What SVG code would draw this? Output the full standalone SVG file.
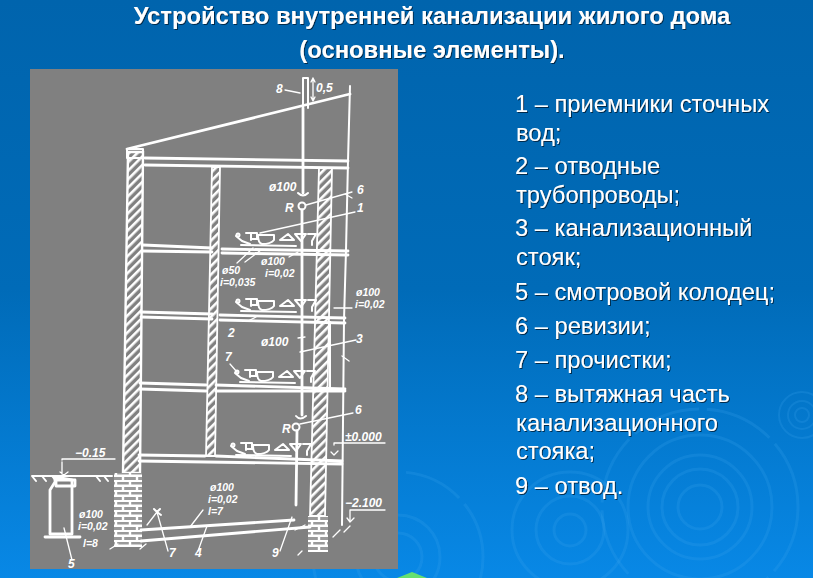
<svg xmlns="http://www.w3.org/2000/svg" xmlns:xlink="http://www.w3.org/1999/xlink" width="813" height="578" viewBox="0 0 813 578">
<style>
.t{font-family:"Liberation Sans",Arial,sans-serif;fill:#fff;filter:url(#sh)}
.h{font-size:23.8px;font-weight:700;text-anchor:middle}
.b{font-size:23.7px}
.r{fill:none;stroke:#3aa2ee;stroke-opacity:.22}
.w{fill:none;stroke:#fff;stroke-width:2;stroke-linecap:round;stroke-linejoin:round}
.n{stroke-width:1.3}
.k{stroke-width:2.8}
.l{font-family:"Liberation Sans",Arial,sans-serif;font-style:italic;font-weight:700;font-size:12px;fill:#fff}
.s{font-size:10.5px}
</style>
<defs>
<linearGradient id="bg" x1="0" y1="0" x2="0" y2="1"><stop offset="0" stop-color="#0064ad"/><stop offset=".5" stop-color="#006bb8"/><stop offset="1" stop-color="#0888e6"/></linearGradient>
<filter id="sh" x="-5%" y="-20%" width="110%" height="140%"><feDropShadow dx="1" dy="1" stdDeviation="0.3" flood-color="#05213f" flood-opacity=".9"/></filter>
<pattern id="hatch" width="6" height="6" patternUnits="userSpaceOnUse" patternTransform="rotate(-45)"><rect width="6" height="6" fill="#808080"/><rect width="6" height="2.6" fill="#fff"/></pattern>
<pattern id="brick" width="14" height="10" patternUnits="userSpaceOnUse"><rect width="14" height="10" fill="#9a9a9a"/><path d="M0 .8H14M0 5.8H14M4 1V5M11 6V10" stroke="#fff" stroke-width="2.4"/></pattern>
<g id="fx" class="w">
<path d="M0 0l6 5 8 3"/><circle cx="2" cy="-1" r="1.5"/>
<path d="M10-3H21V3H15M15-3V4M22-1H38V4Q35 8 26 8 22 7 22-1Z"/>
<path d="M44 4L52-2 58 4ZM59-2H70L65 5ZM72-2H80L76 5V9" />
<path d="M5 9L60 10"/>
</g>
</defs>
<rect width="813" height="578" fill="url(#bg)"/>
<g id="ripples">
<circle class="r" cx="700" cy="507" r="22" stroke-width="3"/><circle class="r" cx="700" cy="507" r="38" stroke-width="3"/><circle class="r" cx="700" cy="507" r="52" stroke-width="3"/><circle class="r" cx="700" cy="507" r="72" stroke-width="3"/><circle class="r" cx="700" cy="507" r="98" stroke-width="3" stroke-dasharray="70 8"/>
<circle class="r" cx="802" cy="415" r="7" stroke-width="2"/><circle class="r" cx="802" cy="415" r="14" stroke-width="2"/><circle class="r" cx="802" cy="415" r="23" stroke-width="2"/>
<circle class="r" cx="570" cy="530" r="16" stroke-width="3"/><circle class="r" cx="570" cy="530" r="34" stroke-width="3"/><circle class="r" cx="570" cy="530" r="58" stroke-width="3"/>
<circle class="r" cx="398" cy="557" r="24" stroke-width="3"/><circle class="r" cx="398" cy="557" r="42" stroke-width="3"/><circle class="r" cx="398" cy="557" r="85" stroke-width="3" stroke-dasharray="60 8"/>
</g>
<path d="M412 572l15 6h-30Z" fill="#66e070"/>
<text class="t h" x="432" y="24">Устройство внутренней канализации жилого дома</text>
<text class="t h" x="432" y="58">(основные элементы).</text>
<g id="legend">
<text class="t b" x="515" y="112">1 – приемники сточных</text>
<text class="t b" x="516" y="141">вод;</text>
<text class="t b" x="515" y="174">2 – отводные</text>
<text class="t b" x="516" y="203">трубопроводы;</text>
<text class="t b" x="515" y="236">3 – канализационный</text>
<text class="t b" x="516" y="265">стояк;</text>
<text class="t b" x="515" y="300">5 – смотровой колодец;</text>
<text class="t b" x="515" y="334">6 – ревизии;</text>
<text class="t b" x="515" y="368">7 – прочистки;</text>
<text class="t b" x="515" y="402">8 – вытяжная часть</text>
<text class="t b" x="516" y="431">канализационного</text>
<text class="t b" x="516" y="459">стояка;</text>
<text class="t b" x="515" y="494">9 – отвод.</text>
</g>
<g id="drawing">
<rect x="30" y="69" width="368" height="500" fill="#808080"/>
<g id="walls">
<path d="M128 152H143L140 473H123Z" fill="url(#hatch)" stroke="#fff" stroke-width="2.4"/>
<path d="M212 167H220L215 456H206Z" fill="url(#hatch)" stroke="#fff" stroke-width="1.8"/>
<path d="M319 168H332L325 516H310Z" fill="url(#hatch)" stroke="#fff" stroke-width="1.8"/>
<rect x="114" y="473" width="28" height="74" fill="url(#brick)"/>
<rect x="308" y="516" width="20" height="36" fill="url(#brick)"/>
<rect x="127" y="149" width="16" height="9" class="w"/>
</g>
<g id="building" class="w">
<path class="k" d="M127 149L350 94"/>
<path class="w" d="M350 86L348 161 346 250 344 320 342 525"/>
<path class="k" d="M145 158L348 161M145 165L348 168"/>
<path class="k" d="M143 245L212 248M222 249L348 251M143 251L212 252M222 253L348 255"/>
<path class="k" d="M141 312L212 314M220 315L345 318M141 317L212 319M220 320L345 323"/>
<path class="k" d="M140 383L206 385M216 385L345 389M140 389L206 391M216 391L345 391"/>
<path class="k" d="M139 455L205 456M216 456L342 461M139 461L342 464"/>
<path d="M328 464H342M330 322V390"/>
</g>
<g id="connectors" class="w">
<path d="M303 78H308M303 78V130M308 78V108"/>
<path class="k" d="M303 108V193"/>
<path d="M298 193Q303 198 308 193"/>
<circle cx="302" cy="206" r="3.5"/>
<path class="k" d="M302 210V415"/>
<path d="M296 416Q300 421 306 416"/>
<circle cx="296" cy="427" r="3.5"/>
<path class="k" d="M297 431L296 505"/>
<path class="k" d="M141 530L294 520M141 541L310 527"/>
<path class="n" d="M313 78V100M311 82L313 78 315 82M311 97L313 101 315 97"/>
<path class="n" d="M285 90L300 93"/>
<path class="n" d="M306 205L352 192M345 194L352 198"/>
<path class="n" d="M260 233L355 212"/>
<path class="n" d="M237 263L253 248M245 262L261 250"/>
<path class="n" d="M289 257L298 252M334 308H352"/>
<path class="n" d="M248 321L256 317M298 338L305 337M300 352L356 340M342 356L349 361"/>
<path class="n" d="M230 364L237 372"/>
<path class="n" d="M300 424L353 413"/>
<path class="n" d="M334 445V443H385M331 452L334 455 338 451"/>
<path class="n" d="M62 460V459H115M60 472L64 475 68 472M62 462V474"/>
<path class="n" d="M350 520V510H385M347 518L350 522 354 518"/>
<path class="n" d="M190 527L203 510M207 526L198 551M292 517L280 551"/>
<path class="n" d="M157 512L168 551M157 512L147 525"/>
<path class="n" d="M64 528L72 560"/>
<path d="M32 476H112M32 476L36 481M42 476L46 481M52 476L56 481M96 476L100 481M104 476L108 481"/>
<path class="k" d="M55 477V482L50 490V534H72V480Z"/>
<path class="k" d="M45 537H80"/>
<path class="k" d="M56 480H75V486H56Z"/>
<path class="n" d="M110 549L118 544M140 549L146 544M340 530L333 537M350 526L344 532M295 530L305 525M298 555L302 551"/>
<path d="M160 509l-3 3-3-3M157 512l4 3"/>
</g>
<g id="fixtures">
<use xlink:href="#fx" href="#fx" x="236" y="236"/>
<use xlink:href="#fx" href="#fx" x="236" y="302"/>
<use xlink:href="#fx" href="#fx" x="235" y="373"/>
<use xlink:href="#fx" href="#fx" x="231" y="446"/>
</g>
<g id="labels">
<text class="l" x="276" y="93">8</text><text class="l" x="316" y="92">0,5</text>
<text class="l" x="269" y="191">ø100</text><text class="l" x="357" y="194">6</text>
<text class="l" x="285" y="212">R</text><text class="l" x="357" y="212">1</text>
<text class="l s" x="261" y="265">ø100</text><text class="l s" x="265" y="277">i=0,02</text>
<text class="l s" x="222" y="274">ø50</text><text class="l s" x="220" y="286">i=0,035</text>
<text class="l s" x="356" y="296">ø100</text><text class="l s" x="355" y="308">i=0,02</text>
<text class="l" x="228" y="337">2</text><text class="l" x="261" y="346">ø100</text>
<text class="l" x="356" y="343">3</text><text class="l" x="225" y="361">7</text>
<text class="l" x="355" y="414">6</text><text class="l" x="282" y="433">R</text>
<text class="l" x="345" y="441">±0.000</text><text class="l" x="75" y="457">−0.15</text>
<text class="l s" x="210" y="491">ø100</text><text class="l s" x="208" y="503">i=0,02</text><text class="l s" x="208" y="515">l=7</text>
<text class="l" x="345" y="507">−2.100</text>
<text class="l s" x="79" y="518">ø100</text><text class="l s" x="78" y="530">i=0,02</text><text class="l s" x="83" y="547">l=8</text>
<text class="l" x="68" y="568">5</text><text class="l" x="169" y="557">7</text><text class="l" x="195" y="557">4</text><text class="l" x="272" y="557">9</text>
</g>
</g>
</svg>
